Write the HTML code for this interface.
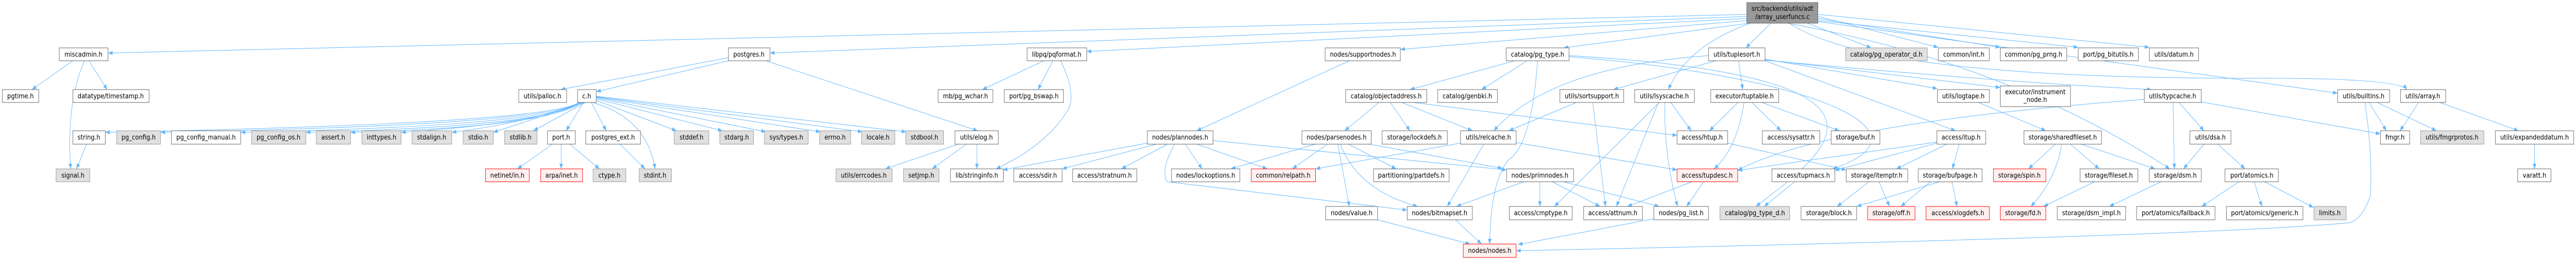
<!DOCTYPE html>
<html><head><meta charset="utf-8"><meta name="viewport" content="width=5651"><style>
html,body{margin:0;padding:0;background:#fff;width:100vw;height:100vh;overflow:hidden;}
svg{display:block;width:100vw;height:100vh;}
text{font-family:"DejaVu Sans","Liberation Sans",sans-serif;font-size:13px;fill:#000;text-anchor:middle;}
.w rect{fill:#fff;stroke:#666;stroke-width:1;}
.g rect{fill:#e0e0e0;stroke:#999;stroke-width:1;}
.r rect{fill:#fff0f0;stroke:#f00;stroke-width:1;}
.e path{fill:none;stroke:#63b8ff;stroke-width:1;marker-end:url(#a);}
</style></head><body>
<svg viewBox="0 0 5651 505" preserveAspectRatio="none" xmlns="http://www.w3.org/2000/svg">
<defs><marker id="a" markerUnits="userSpaceOnUse" markerWidth="11" markerHeight="8" refX="10" refY="4" orient="auto"><path d="M0,0 L10,4 L0,8 z" fill="#63b8ff"/></marker></defs>
<g class="e">
<path d="M3832 28 L237 103"/>
<path d="M3832 32 L1689 103"/>
<path d="M3832 36 L2384 100"/>
<path d="M3832 40 L3072 96"/>
<path d="M3838 45 L3430 93"/>
<path d="M3885 45 L3830 93"/>
<path d="M3840 45 Q3700 90 3660 174"/>
<path d="M3965 45 L4105 93"/>
<path d="M3989 32 L4252 92"/>
<path d="M3989 36 L4388 92"/>
<path d="M3989 40 L4559 92"/>
<path d="M3989 28 L4715 92"/>
<path d="M3989 42 L5128 181"/>
<path d="M3925 45 Q4100 150 4900 152 Q5260 150 5280 174"/>
<path d="M3920 45 Q4400 120 4760 328"/>
<path d="M160 118 L70 174"/>
<path d="M185 118 Q145 200 155 328"/>
<path d="M195 118 L235 174"/>
<path d="M1598 118 L1308 178"/>
<path d="M1598 112 L1230 174"/>
<path d="M1680 118 L2145 254"/>
<path d="M1270 199 Q1200 240 231 257"/>
<path d="M1270 199 Q1200 243 352 257"/>
<path d="M1272 199 Q1200 245 528 257"/>
<path d="M1274 199 Q1200 246 671 257"/>
<path d="M1276 199 Q1200 247 769 257"/>
<path d="M1278 199 Q1180 240 880 257"/>
<path d="M1280 199 Q1150 240 991 257"/>
<path d="M1282 199 L1082 257"/>
<path d="M1284 199 L1170 254"/>
<path d="M1280 199 L1242 254"/>
<path d="M1297 199 L1330 254"/>
<path d="M1300 199 Q1420 230 1437 328"/>
<path d="M1308 195 L1484 254"/>
<path d="M1308 192 L1585 254"/>
<path d="M1308 190 L1680 256"/>
<path d="M1308 189 L1800 256"/>
<path d="M1308 188 L1892 256"/>
<path d="M1308 187 L1988 256"/>
<path d="M190 280 L168 328"/>
<path d="M1212 280 L1135 328"/>
<path d="M1231 280 L1231 328"/>
<path d="M1250 280 L1315 328"/>
<path d="M1360 280 L1415 328"/>
<path d="M2102 280 L1942 328"/>
<path d="M2120 280 L2045 328"/>
<path d="M2143 280 L2143 328"/>
<path d="M2290 118 L2155 174"/>
<path d="M2310 118 L2277 174"/>
<path d="M2327 118 Q2360 180 2345 210 Q2300 280 2185 328"/>
<path d="M2960 118 L2625 254"/>
<path d="M2517 278 L2200 330"/>
<path d="M2537 280 L2330 328"/>
<path d="M2561 280 L2460 328"/>
<path d="M2600 280 L2637 328"/>
<path d="M2625 280 L2780 328"/>
<path d="M2661 273 L3305 330"/>
<path d="M2577 280 Q2545 330 2560 353 L3087 408"/>
<path d="M3323 118 L3093 174"/>
<path d="M3350 118 L3250 174"/>
<path d="M3373 118 Q3360 280 3310 310 Q3270 350 3268 474"/>
<path d="M3442 110 C4000 150 4250 260 4020 328"/>
<path d="M3442 108 C4250 150 4000 300 3852 401"/>
<path d="M3025 199 L2950 254"/>
<path d="M3050 199 L3093 254"/>
<path d="M3075 199 L3230 254"/>
<path d="M3100 199 L3679 263"/>
<path d="M2912 280 L2835 328"/>
<path d="M2958 280 L3063 328"/>
<path d="M2935 280 L2960 401"/>
<path d="M2940 280 Q2980 370 3110 401"/>
<path d="M3004 280 L3296 327"/>
<path d="M2885 280 L2700 328"/>
<path d="M3204 278 L2886 328"/>
<path d="M3255 280 L3175 401"/>
<path d="M3326 277 L3679 330"/>
<path d="M3458 199 L3310 254"/>
<path d="M3494 199 L3522 401"/>
<path d="M3764 118 L3539 174"/>
<path d="M3748 108 Q3400 130 3277 254"/>
<path d="M3814 118 L3823 174"/>
<path d="M3872 115 L4250 172"/>
<path d="M3872 116 L4388 170"/>
<path d="M3872 117 Q4400 160 4720 174"/>
<path d="M3872 118 L4290 254"/>
<path d="M3665 199 L3710 254"/>
<path d="M3638 199 L3546 401"/>
<path d="M3652 199 Q3650 300 3680 401"/>
<path d="M3640 199 L3410 401"/>
<path d="M3813 199 L3750 254"/>
<path d="M3826 199 Q3810 290 3760 328"/>
<path d="M3843 199 L3907 254"/>
<path d="M3865 199 L4035 254"/>
<path d="M3790 278 L4050 330"/>
<path d="M3712 353 L3570 401"/>
<path d="M3737 353 L3700 401"/>
<path d="M3937 353 L3870 401"/>
<path d="M4100 353 L4030 401"/>
<path d="M4122 353 L4145 401"/>
<path d="M4298 280 L4283 328"/>
<path d="M4249 276 L3812 331"/>
<path d="M4249 278 L4025 331"/>
<path d="M4271 280 L4160 328"/>
<path d="M4282 353 L4293 401"/>
<path d="M4255 353 L4073 401"/>
<path d="M4235 353 L4170 401"/>
<path d="M4340 199 L4488 254"/>
<path d="M4509 280 L4450 328"/>
<path d="M4523 280 Q4510 350 4455 401"/>
<path d="M4542 280 L4605 328"/>
<path d="M4566 280 L4728 328"/>
<path d="M4595 353 L4483 401"/>
<path d="M4741 353 L4627 401"/>
<path d="M4767 199 L4770 328"/>
<path d="M4780 199 L4835 254"/>
<path d="M4704 193 Q4000 240 3812 331"/>
<path d="M4829 198 L5222 260"/>
<path d="M4835 280 L4790 328"/>
<path d="M4865 280 L4925 328"/>
<path d="M4912 353 L4830 401"/>
<path d="M4945 353 L4962 401"/>
<path d="M4968 353 L5075 403"/>
<path d="M5197 199 L5235 254"/>
<path d="M5215 199 L5345 254"/>
<path d="M5188 199 Q5205 300 5200 380 Q5180 430 5150 433 Q4800 460 3326 487"/>
<path d="M5306 199 L5265 254"/>
<path d="M5352 199 L5525 254"/>
<path d="M5560 280 L5560 328"/>
<path d="M3022 427 L3225 474"/>
<path d="M3193 427 L3250 474"/>
<path d="M3628 425 L3330 475"/>
<path d="M3343 353 L3195 401"/>
<path d="M3378 353 L3378 401"/>
<path d="M3405 353 L3510 401"/>
<path d="M3430 353 L3640 401"/>
</g>

<g class="g"><rect x="3832" y="5" width="156" height="40" style="fill:#999;stroke:#666"/><text x="3910" y="21">src/backend/utils/adt</text><text x="3910" y="37">/array_userfuncs.c</text></g>

<g class="w"><rect x="130" y="93" width="107" height="25"/><text x="183" y="110">miscadmin.h</text></g>
<g class="w"><rect x="1598" y="93" width="91" height="25"/><text x="1643" y="110">postgres.h</text></g>
<g class="w"><rect x="2253" y="93" width="131" height="25"/><text x="2318" y="110">libpq/pqformat.h</text></g>
<g class="w"><rect x="2907" y="93" width="165" height="25"/><text x="2990" y="110">nodes/supportnodes.h</text></g>
<g class="w"><rect x="3304" y="93" width="138" height="25"/><text x="3373" y="110">catalog/pg_type.h</text></g>
<g class="w"><rect x="3748" y="93" width="124" height="25"/><text x="3810" y="110">utils/tuplesort.h</text></g>
<g class="g"><rect x="4049" y="93" width="179" height="25"/><text x="4138" y="110">catalog/pg_operator_d.h</text></g>
<g class="w"><rect x="4252" y="93" width="112" height="25"/><text x="4308" y="110">common/int.h</text></g>
<g class="w"><rect x="4388" y="93" width="146" height="25"/><text x="4461" y="110">common/pg_prng.h</text></g>
<g class="w"><rect x="4559" y="93" width="132" height="25"/><text x="4625" y="110">port/pg_bitutils.h</text></g>
<g class="w"><rect x="4715" y="93" width="108" height="25"/><text x="4769" y="110">utils/datum.h</text></g>

<g class="w"><rect x="5" y="174" width="80" height="25"/><text x="45" y="191">pgtime.h</text></g>
<g class="w"><rect x="160" y="174" width="167" height="25"/><text x="243" y="191">datatype/timestamp.h</text></g>
<g class="w"><rect x="1138" y="174" width="105" height="25"/><text x="1190" y="191">utils/palloc.h</text></g>
<g class="w"><rect x="1267" y="174" width="41" height="25"/><text x="1287" y="191">c.h</text></g>
<g class="w"><rect x="2058" y="174" width="120" height="25"/><text x="2118" y="191">mb/pg_wchar.h</text></g>
<g class="w"><rect x="2203" y="174" width="130" height="25"/><text x="2268" y="191">port/pg_bswap.h</text></g>
<g class="w"><rect x="2952" y="174" width="178" height="25"/><text x="3041" y="191">catalog/objectaddress.h</text></g>
<g class="w"><rect x="3154" y="174" width="131" height="25"/><text x="3219" y="191">catalog/genbki.h</text></g>
<g class="w"><rect x="3422" y="174" width="140" height="25"/><text x="3492" y="191">utils/sortsupport.h</text></g>
<g class="w"><rect x="3586" y="174" width="131" height="25"/><text x="3651" y="191">utils/lsyscache.h</text></g>
<g class="w"><rect x="3753" y="174" width="149" height="25"/><text x="3827" y="191">executor/tuptable.h</text></g>
<g class="w"><rect x="4250" y="174" width="114" height="25"/><text x="4307" y="191">utils/logtape.h</text></g>
<g class="w"><rect x="4388" y="167" width="154" height="40"/><text x="4465" y="183">executor/instrument</text><text x="4465" y="198">_node.h</text></g>
<g class="w"><rect x="4704" y="174" width="125" height="25"/><text x="4766" y="191">utils/typcache.h</text></g>
<g class="w"><rect x="5128" y="174" width="114" height="25"/><text x="5185" y="191">utils/builtins.h</text></g>
<g class="w"><rect x="5266" y="174" width="99" height="25"/><text x="5315" y="191">utils/array.h</text></g>

<g class="w"><rect x="160" y="254" width="71" height="26"/><text x="195" y="271">string.h</text></g>
<g class="g"><rect x="256" y="254" width="96" height="26"/><text x="304" y="271">pg_config.h</text></g>
<g class="w"><rect x="376" y="254" width="152" height="26"/><text x="452" y="271">pg_config_manual.h</text></g>
<g class="g"><rect x="552" y="254" width="119" height="26"/><text x="611" y="271">pg_config_os.h</text></g>
<g class="g"><rect x="694" y="254" width="75" height="26"/><text x="731" y="271">assert.h</text></g>
<g class="g"><rect x="794" y="254" width="86" height="26"/><text x="837" y="271">inttypes.h</text></g>
<g class="g"><rect x="904" y="254" width="87" height="26"/><text x="947" y="271">stdalign.h</text></g>
<g class="g"><rect x="1016" y="254" width="66" height="26"/><text x="1049" y="271">stdio.h</text></g>
<g class="g"><rect x="1107" y="254" width="71" height="26"/><text x="1142" y="271">stdlib.h</text></g>
<g class="w"><rect x="1201" y="254" width="61" height="26"/><text x="1231" y="271">port.h</text></g>
<g class="w"><rect x="1285" y="254" width="120" height="26"/><text x="1345" y="271">postgres_ext.h</text></g>
<g class="g"><rect x="1479" y="254" width="76" height="26"/><text x="1517" y="271">stddef.h</text></g>
<g class="g"><rect x="1579" y="254" width="74" height="26"/><text x="1616" y="271">stdarg.h</text></g>
<g class="g"><rect x="1677" y="254" width="96" height="26"/><text x="1725" y="271">sys/types.h</text></g>
<g class="g"><rect x="1798" y="254" width="68" height="26"/><text x="1832" y="271">errno.h</text></g>
<g class="g"><rect x="1890" y="254" width="73" height="26"/><text x="1926" y="271">locale.h</text></g>
<g class="g"><rect x="1987" y="254" width="83" height="26"/><text x="2028" y="271">stdbool.h</text></g>
<g class="w"><rect x="2095" y="254" width="95" height="26"/><text x="2142" y="271">utils/elog.h</text></g>
<g class="w"><rect x="2517" y="254" width="144" height="26"/><text x="2589" y="271">nodes/plannodes.h</text></g>
<g class="w"><rect x="2856" y="254" width="152" height="26"/><text x="2932" y="271">nodes/parsenodes.h</text></g>
<g class="w"><rect x="3032" y="254" width="143" height="26"/><text x="3103" y="271">storage/lockdefs.h</text></g>
<g class="w"><rect x="3204" y="254" width="122" height="26"/><text x="3265" y="271">utils/relcache.h</text></g>
<g class="w"><rect x="3679" y="254" width="111" height="26"/><text x="3734" y="271">access/htup.h</text></g>
<g class="w"><rect x="3866" y="254" width="126" height="26"/><text x="3929" y="271">access/sysattr.h</text></g>
<g class="w"><rect x="4017" y="254" width="107" height="26"/><text x="4070" y="271">storage/buf.h</text></g>
<g class="w"><rect x="4249" y="254" width="107" height="26"/><text x="4302" y="271">access/itup.h</text></g>
<g class="w"><rect x="4440" y="254" width="170" height="26"/><text x="4525" y="271">storage/sharedfileset.h</text></g>
<g class="w"><rect x="4804" y="254" width="90" height="26"/><text x="4849" y="271">utils/dsa.h</text></g>
<g class="w"><rect x="5222" y="254" width="64" height="26"/><text x="5254" y="271">fmgr.h</text></g>
<g class="g"><rect x="5310" y="254" width="139" height="26"/><text x="5379" y="271">utils/fmgrprotos.h</text></g>
<g class="w"><rect x="5474" y="254" width="172" height="26"/><text x="5560" y="271">utils/expandeddatum.h</text></g>

<g class="g"><rect x="123" y="328" width="74" height="25"/><text x="160" y="345">signal.h</text></g>
<g class="r"><rect x="1065" y="328" width="96" height="25"/><text x="1113" y="345">netinet/in.h</text></g>
<g class="r"><rect x="1186" y="328" width="92" height="25"/><text x="1232" y="345">arpa/inet.h</text></g>
<g class="g"><rect x="1301" y="328" width="72" height="25"/><text x="1337" y="345">ctype.h</text></g>
<g class="g"><rect x="1402" y="328" width="71" height="25"/><text x="1437" y="345">stdint.h</text></g>
<g class="g"><rect x="1834" y="328" width="123" height="25"/><text x="1895" y="345">utils/errcodes.h</text></g>
<g class="g"><rect x="1982" y="328" width="78" height="25"/><text x="2021" y="345">setjmp.h</text></g>
<g class="w"><rect x="2085" y="328" width="116" height="25"/><text x="2143" y="345">lib/stringinfo.h</text></g>
<g class="w"><rect x="2224" y="328" width="106" height="25"/><text x="2277" y="345">access/sdir.h</text></g>
<g class="w"><rect x="2353" y="328" width="141" height="25"/><text x="2423" y="345">access/stratnum.h</text></g>
<g class="w"><rect x="2570" y="328" width="150" height="25"/><text x="2645" y="345">nodes/lockoptions.h</text></g>
<g class="r"><rect x="2745" y="328" width="141" height="25"/><text x="2815" y="345">common/relpath.h</text></g>
<g class="w"><rect x="3013" y="328" width="166" height="25"/><text x="3096" y="345">partitioning/partdefs.h</text></g>
<g class="w"><rect x="3305" y="328" width="147" height="25"/><text x="3378" y="345">nodes/primnodes.h</text></g>
<g class="r"><rect x="3679" y="328" width="133" height="25"/><text x="3745" y="345">access/tupdesc.h</text></g>
<g class="w"><rect x="3887" y="328" width="138" height="25"/><text x="3956" y="345">access/tupmacs.h</text></g>
<g class="w"><rect x="4050" y="328" width="135" height="25"/><text x="4117" y="345">storage/itemptr.h</text></g>
<g class="w"><rect x="4208" y="328" width="140" height="25"/><text x="4278" y="345">storage/bufpage.h</text></g>
<g class="r"><rect x="4373" y="328" width="115" height="25"/><text x="4430" y="345">storage/spin.h</text></g>
<g class="w"><rect x="4563" y="328" width="127" height="25"/><text x="4626" y="345">storage/fileset.h</text></g>
<g class="w"><rect x="4715" y="328" width="114" height="25"/><text x="4772" y="345">storage/dsm.h</text></g>
<g class="w"><rect x="4881" y="328" width="117" height="25"/><text x="4940" y="345">port/atomics.h</text></g>
<g class="w"><rect x="5523" y="328" width="73" height="25"/><text x="5560" y="345">varatt.h</text></g>

<g class="w"><rect x="2908" y="401" width="114" height="26"/><text x="2965" y="418">nodes/value.h</text></g>
<g class="w"><rect x="3087" y="401" width="143" height="26"/><text x="3158" y="418">nodes/bitmapset.h</text></g>
<g class="w"><rect x="3311" y="401" width="138" height="26"/><text x="3380" y="418">access/cmptype.h</text></g>
<g class="w"><rect x="3474" y="401" width="129" height="26"/><text x="3538" y="418">access/attnum.h</text></g>
<g class="w"><rect x="3628" y="401" width="120" height="26"/><text x="3688" y="418">nodes/pg_list.h</text></g>
<g class="g"><rect x="3773" y="401" width="153" height="26"/><text x="3850" y="418">catalog/pg_type_d.h</text></g>
<g class="w"><rect x="3951" y="401" width="122" height="26"/><text x="4012" y="418">storage/block.h</text></g>
<g class="r"><rect x="4097" y="401" width="104" height="26"/><text x="4149" y="418">storage/off.h</text></g>
<g class="r"><rect x="4225" y="401" width="139" height="26"/><text x="4295" y="418">access/xlogdefs.h</text></g>
<g class="r"><rect x="4388" y="401" width="100" height="26"/><text x="4438" y="418">storage/fd.h</text></g>
<g class="w"><rect x="4513" y="401" width="150" height="26"/><text x="4588" y="418">storage/dsm_impl.h</text></g>
<g class="w"><rect x="4687" y="401" width="172" height="26"/><text x="4773" y="418">port/atomics/fallback.h</text></g>
<g class="w"><rect x="4884" y="401" width="168" height="26"/><text x="4968" y="418">port/atomics/generic.h</text></g>
<g class="g"><rect x="5076" y="401" width="71" height="26"/><text x="5111" y="418">limits.h</text></g>

<g class="r"><rect x="3210" y="474" width="116" height="26"/><text x="3268" y="491">nodes/nodes.h</text></g>
</svg>
</body></html>
